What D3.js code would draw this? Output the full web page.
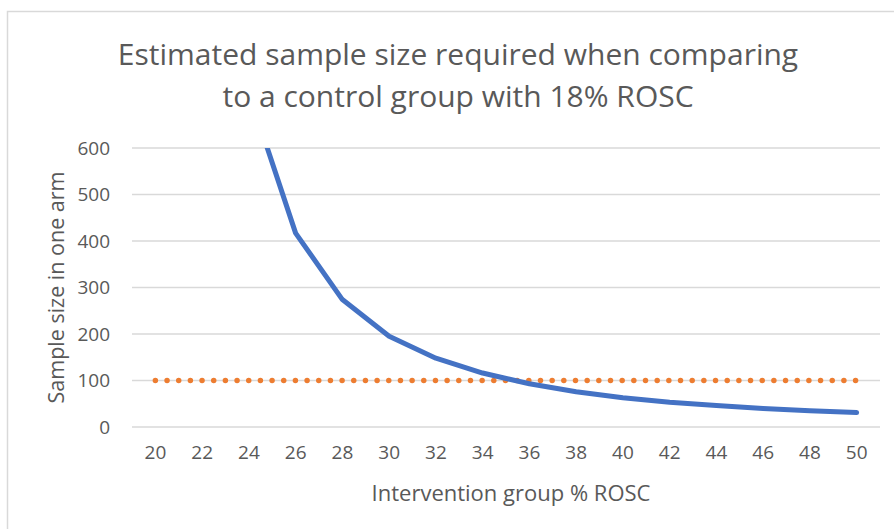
<!DOCTYPE html>
<html>
<head>
<meta charset="utf-8">
<script src="https://cdn.jsdelivr.net/npm/d3@7"></script>
<style>
  body { margin: 0; background: #fff; }
  text { font-family: "Open Sans", "Noto Sans", sans-serif; fill: #595959; }
</style>
</head>
<body>
<div id="chart"></div>
<script>
// data
const categories = [20, 22, 24, 26, 28, 30, 32, 34, 36, 38, 40, 42, 44, 46, 48, 50];
const sampleSize = [6029, 1564, 719, 417, 274, 195, 148, 116, 93, 76, 63, 53, 46, 40, 35, 31];
const threshold = [100, 100, 100, 100, 100, 100, 100, 100, 100, 100, 100, 100, 100, 100, 100, 100];
const yTicks = [0, 100, 200, 300, 400, 500, 600];
const titleLines = ["Estimated sample size required when comparing", "to a control group with 18% ROSC"];

const W = 894, H = 529;
const margin = {top: 148, right: 14, bottom: 102, left: 132};
const width = W - margin.left - margin.right,
      height = H - margin.top - margin.bottom;

const svg = d3.select("#chart")
    .append("svg")
    .attr("width", W)
    .attr("height", H);

// chart border
svg.append("rect")
    .attr("x", 7.5).attr("y", 11.5)
    .attr("width", W + 10).attr("height", H + 10)
    .attr("fill", "none")
    .attr("stroke", "#d9d9d9")
    .attr("stroke-width", 1.5);

// title
svg.append("text")
    .attr("x", 458).attr("y", 65)
    .attr("text-anchor", "middle")
    .style("font-size", "30px")
    .selectAll("tspan")
    .data(titleLines)
    .join("tspan")
      .attr("x", 458)
      .attr("dy", (d, i) => i === 0 ? 0 : 42)
      .text(d => d);

const g = svg.append("g")
    .attr("transform", `translate(${margin.left}, ${margin.top})`);

const x = d3.scaleBand()
    .domain(categories)
    .range([0, width]);

const y = d3.scaleLinear()
    .domain([0, 600])
    .range([height, 0]);

// gridlines
g.append("g")
    .selectAll("line")
    .data(yTicks)
    .join("line")
      .attr("x1", 0).attr("x2", width)
      .attr("y1", d => y(d)).attr("y2", d => y(d))
      .attr("stroke", "#d9d9d9")
      .attr("stroke-width", 1.3);

// y axis labels
const yAxis = g.append("g")
    .call(d3.axisLeft(y).tickValues(yTicks).tickSize(0).tickPadding(22));
yAxis.select(".domain").remove();
yAxis.selectAll("text")
    .style("font-size", "19px")
    .style("fill", "#595959");

// x axis labels
const xAxis = g.append("g")
    .attr("transform", `translate(0, ${height})`)
    .call(d3.axisBottom(x).tickSize(0).tickPadding(19));
xAxis.select(".domain").remove();
xAxis.selectAll("text")
    .style("font-size", "19px")
    .style("fill", "#595959");

// axis titles
svg.append("text")
    .attr("x", 511)
    .attr("y", 501)
    .attr("text-anchor", "middle")
    .style("font-size", "22px")
    .text("Intervention group % ROSC");

svg.append("text")
    .attr("transform", `translate(64, ${margin.top + height / 2}) rotate(-90)`)
    .attr("text-anchor", "middle")
    .style("font-size", "21.5px")
    .text("Sample size in one arm");

// clip to plot area
g.append("clipPath")
    .attr("id", "plot-clip")
    .append("rect")
    .attr("x", 0).attr("y", 0)
    .attr("width", width).attr("height", height);

const cx = d => x(d) + x.bandwidth() / 2;

// threshold line (orange dotted)
g.append("path")
    .datum(categories.map((c, i) => [c, threshold[i]]))
    .attr("fill", "none")
    .attr("stroke", "#ED7D31")
    .attr("stroke-width", 5.5)
    .attr("stroke-linecap", "round")
    .attr("stroke-dasharray", "0,11.67")
    .attr("d", d3.line().x(d => cx(d[0])).y(d => y(d[1])));

// sample size line (blue)
g.append("path")
    .datum(categories.map((c, i) => [c, sampleSize[i]]))
    .attr("clip-path", "url(#plot-clip)")
    .attr("fill", "none")
    .attr("stroke", "#4472C4")
    .attr("stroke-width", 5)
    .attr("stroke-linejoin", "round")
    .attr("stroke-linecap", "round")
    .attr("d", d3.line().x(d => cx(d[0])).y(d => y(d[1])));
</script>
</body>
</html>
